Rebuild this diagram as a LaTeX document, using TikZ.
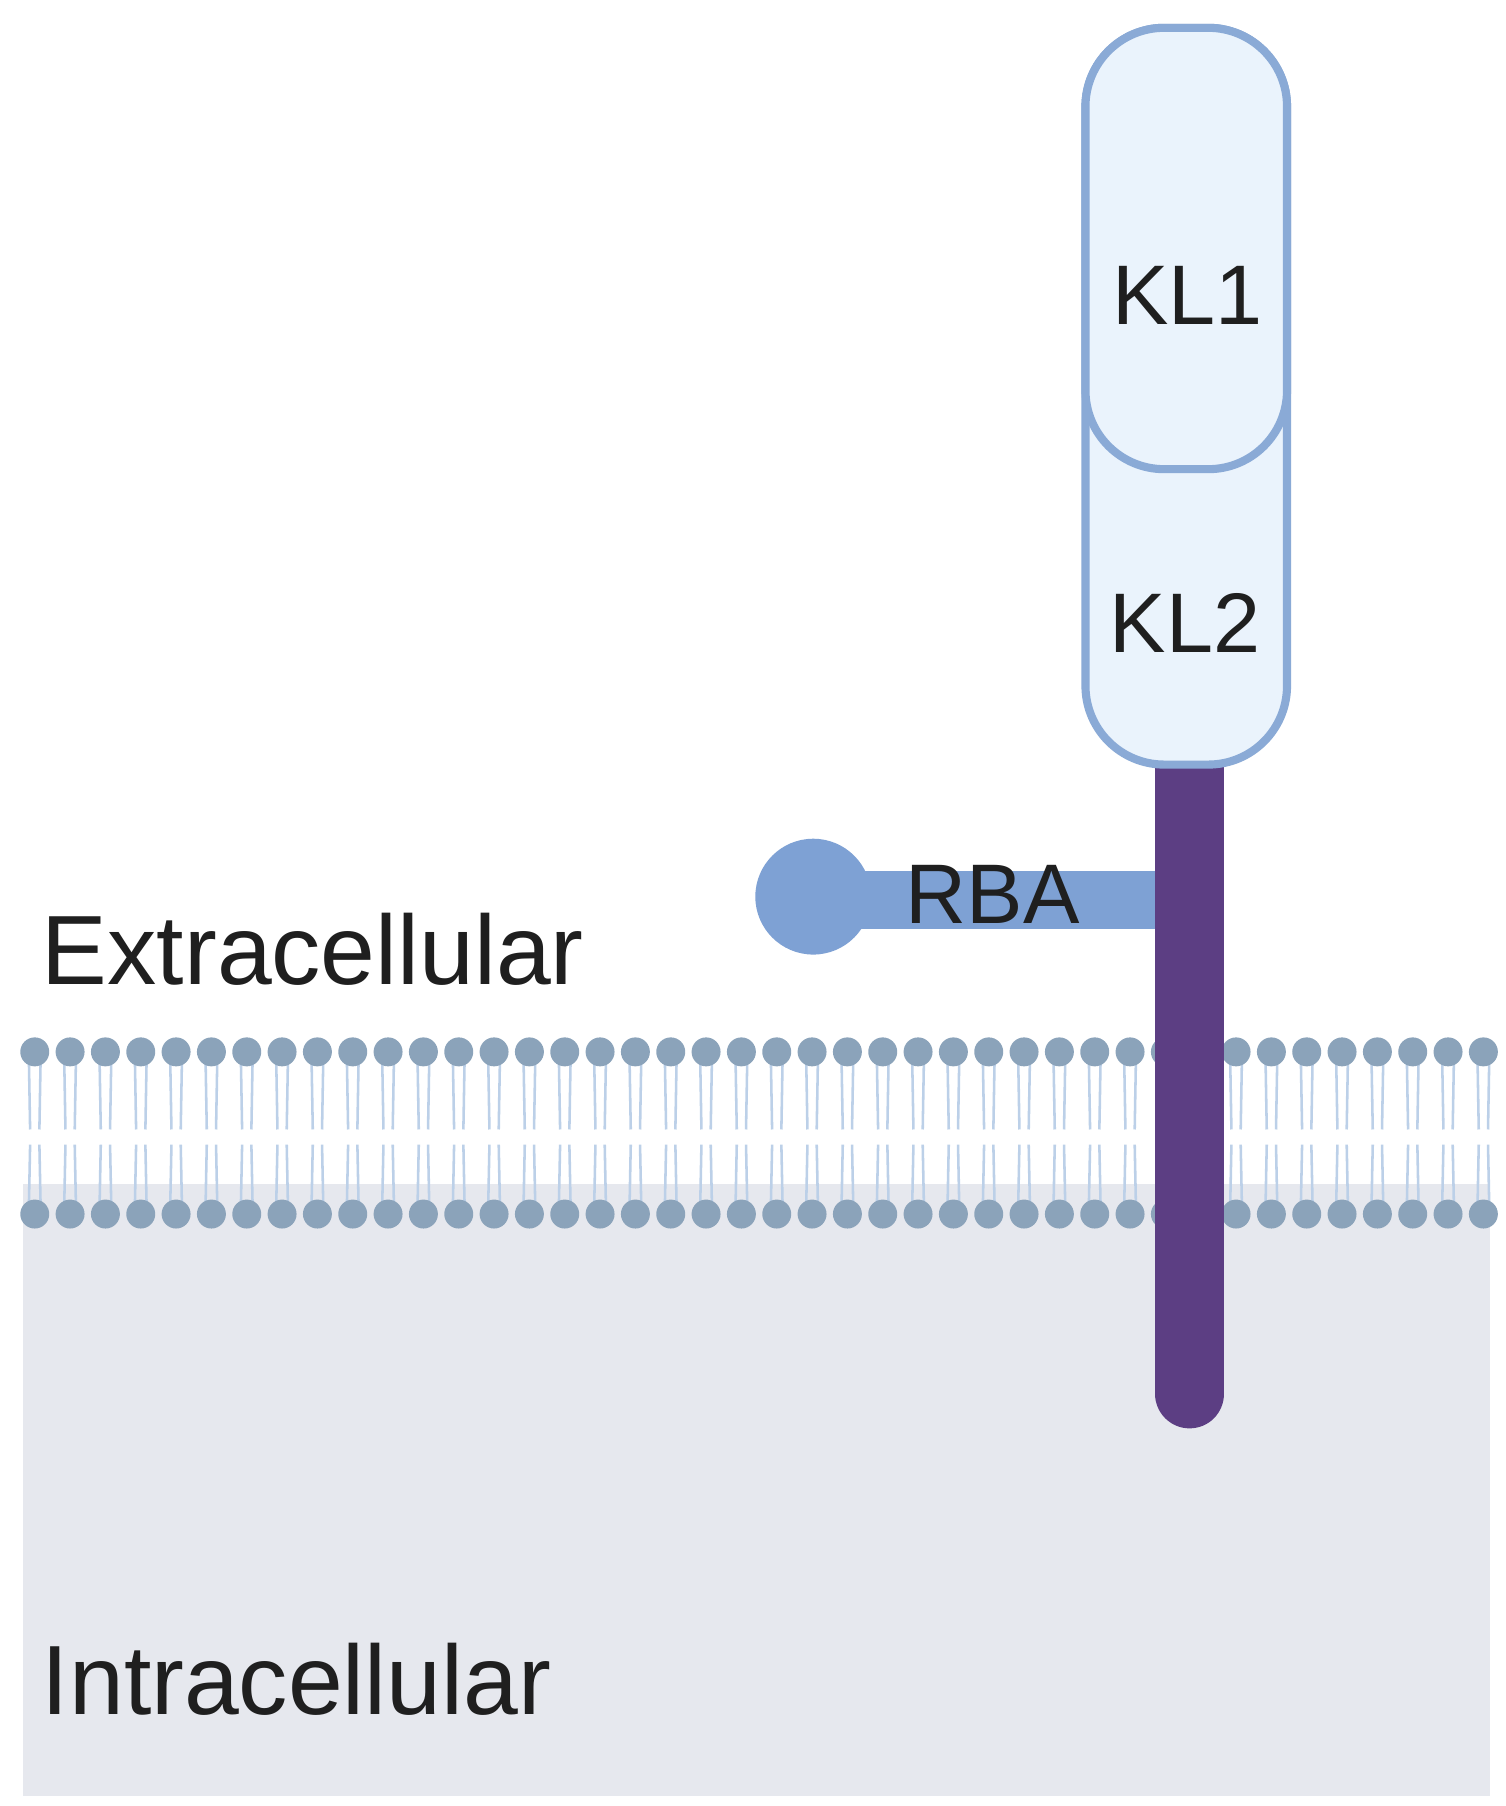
\documentclass[tikz,border=0pt]{standalone}
\usepackage{fontspec}
\setmainfont{Liberation Sans}
\definecolor{cyto}{HTML}{E6E8EE}
\definecolor{head}{HTML}{8BA3BA}
\definecolor{tail}{HTML}{BCD0E8}
\definecolor{stalk}{HTML}{5C3E83}
\definecolor{klfill}{HTML}{EAF3FC}
\definecolor{kledge}{HTML}{8AAAD6}
\definecolor{rba}{HTML}{7EA1D4}
\tikzset{lbl/.style={font=\fontsize{85}{90}\selectfont, inner sep=0pt, anchor=base west, text=black!88},
 dom/.style={font=\fontsize{73}{80}\selectfont, inner sep=0pt, text=black!88}}
\begin{document}
\begin{tikzpicture}[x=1pt,y=-1pt]
\useasboundingbox (0,0) rectangle (1300,1559);
\fill[white] (0,0) rectangle (1300,1559);
\fill[cyto] (20,1022) rectangle (1286,1550);
% membrane
\foreach \i in {0,...,41}{
  \pgfmathsetmacro{\xx}{30+\i*30.5}
  \draw[tail, line width=2.2pt] (\xx-5,918) -- (\xx-4,975) (\xx+5,918) -- (\xx+4,975);
  \draw[tail, line width=2.2pt] (\xx-4,988) -- (\xx-5,1038) (\xx+4,988) -- (\xx+5,1038);
}
\foreach \i in {0,...,41}{
  \pgfmathsetmacro{\xx}{30+\i*30.5}
  \fill[head] (\xx,908) circle (12.5);
  \fill[head] (\xx,1048) circle (12.5);
}
% stalk
\draw[stalk, line width=60pt, line cap=round] (1027,640) -- (1027,1203);
\fill[stalk] (997,640) rectangle (1057,700);
% RBA
\fill[rba] (700,752) rectangle (997,802);
\fill[rba] (702,774) circle (50);
\node[dom, anchor=center] (rba) at (857,772) {RBA};
% KL domains
\draw[kledge, fill=klfill, line width=7pt, rounded corners=68] (937,24) rectangle (1111,660);
\draw[kledge, fill=klfill, line width=7pt, rounded corners=68] (937,24) rectangle (1111,405);
\node[dom] (kl1) at (1025,255) {KL1};
\node[dom] (kl2) at (1023,538) {KL2};
\node[lbl] (ext) at (36,850) {Extracellular};
\node[lbl] (int) at (36,1480) {Intracellular};
\end{tikzpicture}
\end{document}
